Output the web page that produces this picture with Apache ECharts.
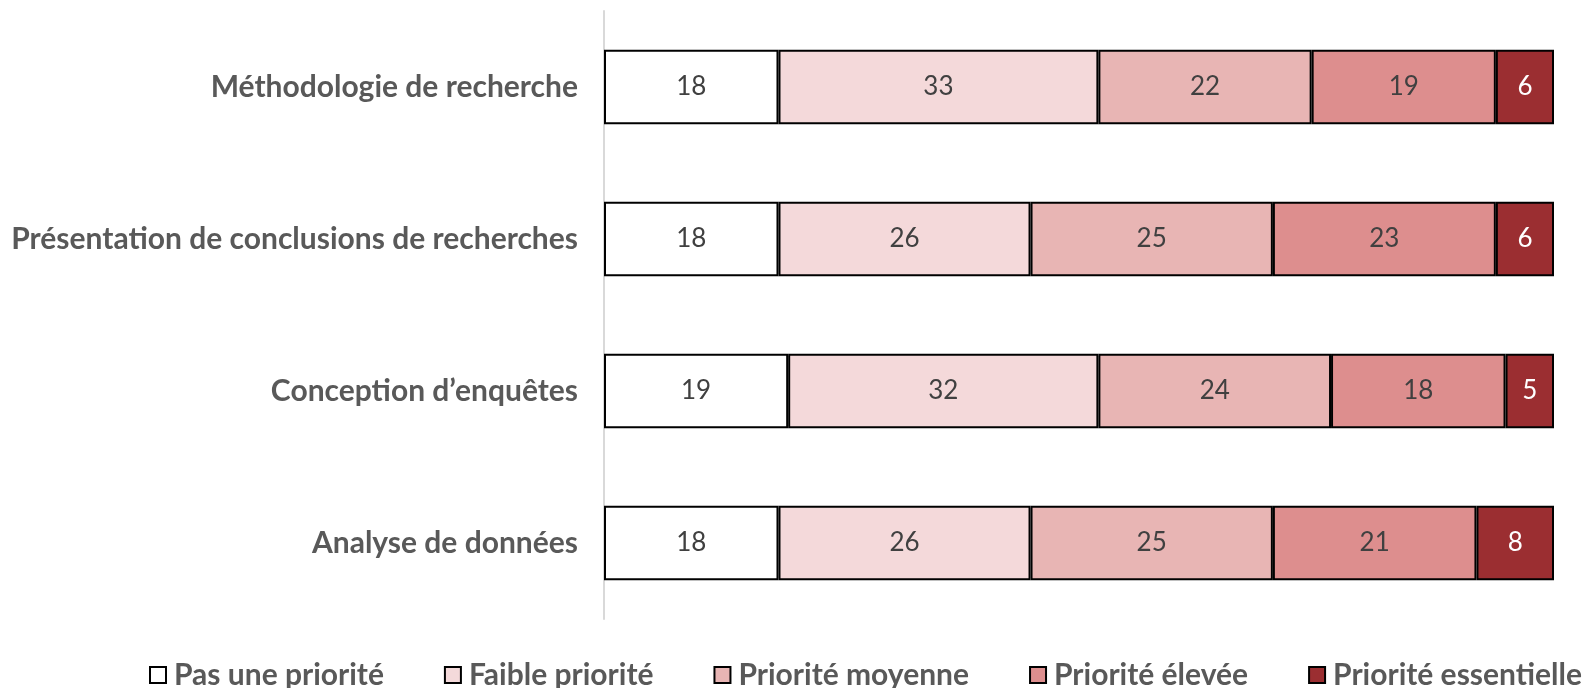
<!DOCTYPE html>
<html>
<head>
<meta charset="utf-8">
<script src="https://cdn.jsdelivr.net/npm/echarts@6/dist/echarts.min.js"></script>
<style>
  html, body { margin: 0; padding: 0; background: #fff; }
  #chart { width: 1585px; height: 688px; }
</style>
</head>
<body>
<div id="chart"></div>
<script>
const categories = ['Méthodologie de recherche', 'Présentation de conclusions de recherches', 'Conception d\u2019enquêtes', 'Analyse de données']
const seriesNames = ['Pas une priorité', 'Faible priorité', 'Priorité moyenne', 'Priorité élevée', 'Priorité essentielle']
const pasUne = [18, 18, 19, 18]
const faible = [33, 26, 32, 26]
const moyenne = [22, 25, 24, 25]
const elevee = [19, 23, 18, 21]
const essentielle = [6, 6, 5, 8]
const colors = ['#ffffff', '#f4d9da', '#e8b5b4', '#dd8e8e', '#9b2e31']

const values = [pasUne, faible, moyenne, elevee, essentielle]
// bars all reach the same length, so the scale ends at the row total
const total = Math.max(...categories.map((c, i) => values.reduce((s, v) => s + v[i], 0)))

const FONT = 'Lato'

let chart = echarts.init(document.getElementById('chart'))
chart.setOption({
  animation: false,
  color: colors,
  grid: { left: 604, right: 31, top: 11, bottom: 69 },
  legend: {
    bottom: -2,
    left: 149,
    width: 1436,
    padding: 0,
    itemWidth: 16,
    itemHeight: 16,
    itemGap: 60,
    icon: 'rect',
    textStyle: { fontFamily: FONT, fontWeight: 'bold', fontSize: 30, color: '#595959', padding: [0, 0, 0, 3] },
    data: seriesNames.map(n => ({ name: n, itemStyle: { borderColor: '#000', borderWidth: 2 } }))
  },
  xAxis: {
    type: 'value',
    min: 0,
    max: total,
    show: false
  },
  yAxis: {
    type: 'category',
    inverse: true,
    data: categories,
    axisTick: { show: false },
    axisLine: { lineStyle: { color: '#d9d9d9', width: 2 } },
    axisLabel: { fontFamily: FONT, fontWeight: 'bold', fontSize: 30, color: '#595959', margin: 26 }
  },
  series: seriesNames.map((name, k) => ({
    name: name,
    type: 'bar',
    stack: 'total',
    barWidth: '49%',
    data: values[k],
    itemStyle: { color: colors[k], borderColor: '#000', borderWidth: 2 },
    label: {
      show: true,
      position: 'inside',
      fontFamily: FONT,
      fontSize: 26,
      color: k === 4 ? '#ffffff' : '#404040'
    }
  }))
})
</script>
</body>
</html>
